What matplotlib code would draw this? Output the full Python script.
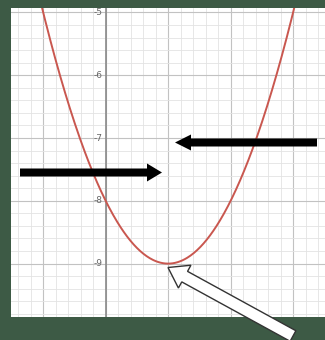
import matplotlib
matplotlib.use("Agg")
import matplotlib.pyplot as plt
import numpy as np
from matplotlib.ticker import MultipleLocator
from matplotlib.patches import FancyArrow
from matplotlib.transforms import IdentityTransform

pts_x = [-1, 0, 1, 2, 3]
pts_y = [-5, -8, -9, -8, -5]
y_labels = [-5, -6, -7, -8, -9]

W, H = 325, 340
fig = plt.figure(figsize=(W / 100, H / 100), dpi=100)
fig.patch.set_facecolor('#3d5a45')

ax = fig.add_axes([11 / W, (H - 317) / H, (W - 11) / W, (317 - 8) / H])
ax.set_facecolor('white')
ax.set_xlim(-1.515, 3.51)
ax.set_ylim(-9.85, -4.93)

ax.xaxis.set_major_locator(MultipleLocator(1))
ax.yaxis.set_major_locator(MultipleLocator(1))
ax.xaxis.set_minor_locator(MultipleLocator(0.2))
ax.yaxis.set_minor_locator(MultipleLocator(0.2))
ax.grid(which='minor', color='#e3e3e3', lw=0.6)
ax.grid(which='major', color='#c2c2c2', lw=0.8)
ax.tick_params(which='both', length=0, labelbottom=False, labelleft=False)
for s in ax.spines.values():
    s.set_visible(False)
ax.set_axisbelow(True)

# y axis
ax.axvline(0, color='#8a8a8a', lw=1.2, zorder=2)
for v in y_labels:
    ax.annotate(str(v), (0, v), xytext=(-2, 0), textcoords='offset points',
                ha='right', va='center', fontsize=6.5, color='#666666', zorder=3)

# parabola through the read points
coef = np.polyfit(pts_x, pts_y, 2)
xs = np.linspace(-1.6, 3.6, 400)
ax.plot(xs, np.polyval(coef, xs), color='#c9574f', lw=1.4, zorder=4)


def arrow(x0, y0, x1, y1, w, hw, hl, fc, ec, lw=0):
    # pixel coords measured from top-left of the image
    a = FancyArrow(x0, H - y0, x1 - x0, -(y1 - y0), width=w, head_width=hw,
                   head_length=hl, length_includes_head=True,
                   transform=IdentityTransform(), fc=fc, ec=ec, lw=lw)
    fig.add_artist(a)


arrow(20, 172.5, 162, 172.5, 8, 18, 15, 'black', 'black')
arrow(317, 142.5, 175, 142.5, 8, 16, 16, 'black', 'black')
arrow(293, 336, 168, 267.5, 12, 26, 19, 'white', '#333333', 1.0)

fig.savefig('out.png', dpi=100, facecolor=fig.get_facecolor())
